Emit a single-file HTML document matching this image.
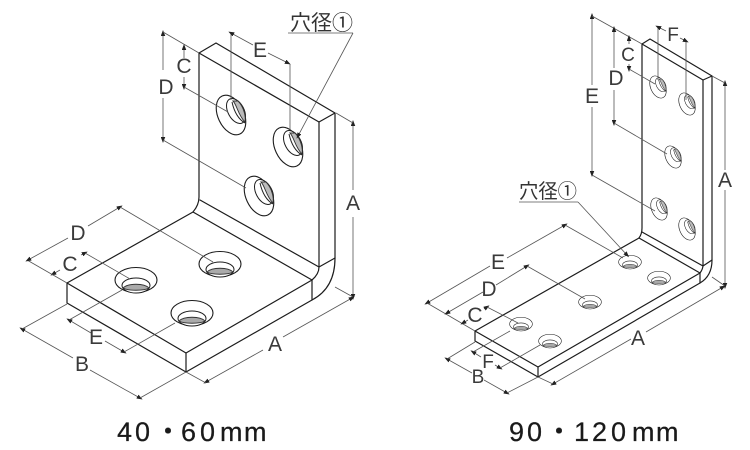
<!DOCTYPE html>
<html>
<head>
<meta charset="utf-8">
<style>
html,body{margin:0;padding:0;background:#fff;width:750px;height:450px;overflow:hidden}
svg{display:block}
.o{fill:none;stroke:#1c1c1c;stroke-width:1.2;stroke-linejoin:round;stroke-linecap:round}
.d{fill:none;stroke:#555;stroke-width:.8}
.s{fill:none;stroke:#555;stroke-width:.8;marker-start:url(#ar)}
.l{font-family:"Liberation Sans",sans-serif;font-size:21px;fill:#3a3a3a;text-anchor:middle}
.m{font-family:"Liberation Sans",sans-serif;font-size:19px;fill:#3a3a3a;text-anchor:middle}
.j{font-family:"Liberation Sans","Noto Sans CJK JP",sans-serif;fill:#333}
.t{font-family:"Liberation Sans","Noto Sans CJK JP",sans-serif;font-size:27px;fill:#1a1a1a;stroke:#1a1a1a;stroke-width:.25}
</style>
</head>
<body>
<svg width="750" height="450" viewBox="0 0 750 450" xmlns="http://www.w3.org/2000/svg">
<defs>
<marker id="ar" viewBox="0 0 8 6" refX="4" refY="3" markerWidth="6" markerHeight="4.5" orient="auto-start-reverse" markerUnits="userSpaceOnUse"><path d="M0 0L8 3L0 6Z" fill="#222"/></marker>
<g id="hv">
<ellipse cx="0" cy="0" rx="13" ry="21" transform="rotate(-25)" fill="#fff" stroke="#1c1c1c" stroke-width="1.1"/>
<ellipse cx="5" cy="-4" rx="8" ry="13.5" transform="rotate(-28 5 -4)" fill="#fff" stroke="#1c1c1c" stroke-width="1"/>
<path d="M2 -14C6 -10 7 0 14 7C15 2 13 -8 7 -14Z" fill="#bbb" stroke="#333" stroke-width=".9"/>
<path d="M1 -13C3 -4 7 4 14 8" fill="none" stroke="#222" stroke-width="1"/>
</g>
<g id="hb">
<ellipse cx="0" cy="0" rx="21" ry="12.5" fill="#fff" stroke="#1c1c1c" stroke-width="1.1"/>
<ellipse cx="0" cy="5.5" rx="14" ry="7.5" fill="#fff" stroke="#1c1c1c" stroke-width="1"/>
<path d="M-13 8C-8 3 8 3 13 8C8 11 -8 11 -13 8Z" fill="#aaa" stroke="#333" stroke-width=".9"/>
</g>
</defs>

<!-- Left bracket -->
<g class="o">
<path d="M199 53L216 43L335 113L319 122Z"/>
<path d="M199 53V197Q199 205 193 212L67 283V303L186 372L312 300Q335 288 335 258V113"/>
<path d="M67 283L186 353L312 280L193 212"/>
<path d="M186 353V372M312 280V300"/>
<path d="M319 122V267Q319 274 312 280M200 200L319 267L335 258"/>
</g>
<use href="#hv" x="231" y="115"/>
<use href="#hv" x="288" y="147"/>
<use href="#hv" x="259" y="196"/>
<use href="#hb" x="136" y="280"/>
<use href="#hb" x="220" y="264"/>
<use href="#hb" x="192" y="313"/>

<g>
<path class="s" d="M163 33V70"/><path class="s" d="M163 140V98"/>
<path class="d" d="M163 32L199 53M163 140L246 188"/>
<path class="s" d="M184 47V58"/><path class="s" d="M184 87V77"/>
<path class="d" d="M184 87L228 112"/>
<path class="d" d="M231 32V100M290 64V130"/>
<path class="s" d="M231 33L253 45"/><path class="s" d="M288 63L268 53"/>
<path class="d" d="M288 33H353"/><path class="d" d="M353 33L298 136" marker-end="url(#ar)"/>
<path class="s" d="M353 123V190"/><path class="s" d="M353 297V217"/>
<path class="d" d="M336 113L353 123M335 287L353 297"/>
<path class="s" d="M206 382L263 350"/><path class="s" d="M352 298L283 337"/>
<path class="d" d="M186 372L206 383"/>
<path class="s" d="M22 329L73 358"/><path class="s" d="M140 398L90 370"/>
<path class="d" d="M67 304L22 329M186 372L140 398"/>
<path class="s" d="M69 320L91 333"/><path class="s" d="M124 352L105 341"/>
<path class="d" d="M69 320L122 290M124 352L175 323"/>
<path class="s" d="M53 274L60 270"/><path class="s" d="M85 253L81 255"/>
<path class="d" d="M27 260L67 283M85 253L130 279"/>
<path class="s" d="M28 260L68 238"/><path class="s" d="M120 207L88 226"/>
<path class="d" d="M120 207L213 262"/>
</g>
<text class="l" x="353" y="210">A</text>
<text class="l" x="275" y="351">A</text>
<text class="l" x="82" y="371">B</text>
<text class="l" x="96" y="344">E</text>
<text class="l" x="70" y="271">C</text>
<text class="l" x="78" y="240">D</text>
<text class="l" x="166" y="94">D</text>
<text class="l" x="184" y="73">C</text>
<text class="l" x="260" y="57">E</text>
<text class="j" x="290" y="30" font-size="21" textLength="63" lengthAdjust="spacingAndGlyphs">穴径①</text>

<!-- Right bracket -->
<g class="o">
<path d="M642 44L650 39L712 76L703 80Z"/>
<path d="M642 44V228Q642 234 639 238L475 331V341L538 377L700 283Q712 276 712 260V76"/>
<path d="M475 331L538 367L700 273L639 238"/>
<path d="M538 367V377M700 273V283"/>
<path d="M703 80V265Q703 269 700 273M642 232L703 266L712 260"/>
</g>
<g transform="translate(658,87) scale(.56)"><use href="#hv"/></g>
<g transform="translate(687,104) scale(.56)"><use href="#hv"/></g>
<g transform="translate(673,157) scale(.56)"><use href="#hv"/></g>
<g transform="translate(659,209) scale(.56)"><use href="#hv"/></g>
<g transform="translate(687,229) scale(.56)"><use href="#hv"/></g>
<g transform="translate(630,262) scale(.54)"><use href="#hb"/></g>
<g transform="translate(659,278) scale(.54)"><use href="#hb"/></g>
<g transform="translate(590,302) scale(.54)"><use href="#hb"/></g>
<g transform="translate(521,324) scale(.54)"><use href="#hb"/></g>
<g transform="translate(550,341) scale(.54)"><use href="#hb"/></g>

<g>
<path class="s" d="M592 16V85"/><path class="s" d="M592 174V107"/>
<path class="d" d="M592 16L642 44M592 175L655 211"/>
<path class="s" d="M614 29V68"/><path class="s" d="M614 123V90"/>
<path class="d" d="M614 123L667 154"/>
<path class="s" d="M629 38V44"/><path class="s" d="M629 69V64"/>
<path class="d" d="M629 69L655 84"/>
<path class="d" d="M658 26V80M686 41V100"/>
<path class="s" d="M658 27L666 31"/><path class="s" d="M686 41L680 38"/>
<path class="s" d="M725 83V170"/><path class="s" d="M725 286V190"/>
<path class="d" d="M712 76L725 83M712 277L725 286"/>
<path class="d" d="M519 202H578"/><path class="d" d="M578 202L627 255" marker-end="url(#ar)"/>
<path class="s" d="M427 303L490 266"/><path class="s" d="M565 225L507 258"/>
<path class="d" d="M427 303L475 331M565 225L623 258"/>
<path class="s" d="M447 313L483 292"/><path class="s" d="M527 266L496 285"/>
<path class="d" d="M527 266L585 299"/>
<path class="s" d="M463 323L468 320"/><path class="s" d="M487 307L484 309"/>
<path class="d" d="M487 307L518 323"/>
<path class="s" d="M553 384L631 339"/><path class="s" d="M723 287L646 332"/>
<path class="d" d="M538 377L553 384"/>
<path class="s" d="M447 359L472 373"/><path class="s" d="M507 393L484 380"/>
<path class="d" d="M475 342L447 359M538 377L507 393"/>
<path class="s" d="M473 352L481 357"/><path class="s" d="M500 368L495 365"/>
<path class="d" d="M500 368L540 345M473 352L510 331"/>
</g>
<text class="l" x="725" y="187">A</text>
<text class="l" x="638" y="345">A</text>
<text class="m" x="478" y="383">B</text>
<text class="m" x="488" y="368">F</text>
<text class="l" x="475" y="322">C</text>
<text class="l" x="489" y="296">D</text>
<text class="l" x="498" y="269">E</text>
<text class="l" x="592" y="103">E</text>
<text class="l" x="616" y="85">D</text>
<text class="m" x="628" y="61">C</text>
<text class="m" x="673" y="41">F</text>
<text class="j" x="519" y="198" font-size="20" textLength="58" lengthAdjust="spacingAndGlyphs">穴径①</text>

<text class="t" x="117 135" y="441">40</text>
<text class="t" x="168" y="441" text-anchor="middle">・</text>
<text class="t" x="181 200 220 244" y="441">60mm</text>
<text class="t" x="509 527" y="441">90</text>
<text class="t" x="559" y="441" text-anchor="middle">・</text>
<text class="t" x="574 592 611 632 656" y="441">120mm</text>
</svg>
</body>
</html>
